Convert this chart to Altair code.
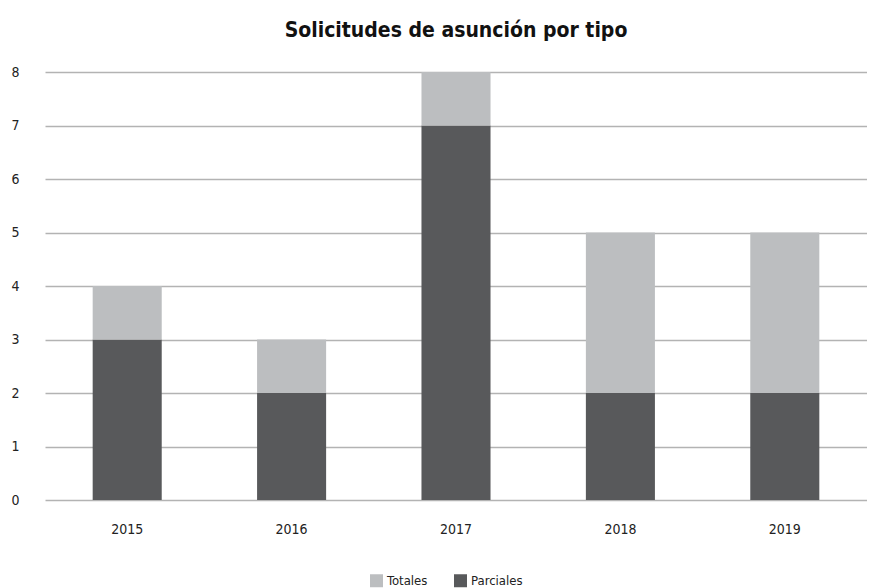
import altair as alt
import pandas as pd

years = ["2015", "2016", "2017", "2018", "2019"]
parciales = [3, 2, 7, 2, 2]
totales = [1, 1, 1, 3, 3]

rows = []
for y, p, t in zip(years, parciales, totales):
    rows.append({"year": y, "tipo": "Parciales", "valor": p, "orden": 0})
    rows.append({"year": y, "tipo": "Totales", "valor": t, "orden": 1})
df = pd.DataFrame(rows)

FONT = "'DejaVu Sans Condensed', 'Roboto', sans-serif"

chart = alt.Chart(df).mark_bar().encode(
    x=alt.X("year:N", title=None,
            scale=alt.Scale(paddingInner=0.58, paddingOuter=0.29),
            axis=alt.Axis(labelAngle=0, ticks=False, domain=False, labelPadding=22,
                          labelFontSize=14, labelColor="#222", labelFont=FONT)),
    y=alt.Y("valor:Q", title=None, stack="zero",
            scale=alt.Scale(domain=[0, 8], nice=False),
            axis=alt.Axis(values=list(range(9)), ticks=False, domain=False,
                          labelPadding=34, labelFontSize=14, labelColor="#222",
                          labelFont=FONT, gridColor="#b3b3b3", gridWidth=1.5,
                          labelAlign="left")),
    color=alt.Color("tipo:N", title=None,
                    scale=alt.Scale(domain=["Totales", "Parciales"],
                                    range=["#bcbec0", "#58595b"]),
                    legend=alt.Legend(orient="none", legendX=325, legendY=502,
                                      direction="horizontal",
                                      symbolType="square", symbolSize=169,
                                      labelFontSize=13, labelFont=FONT,
                                      labelOffset=4, labelColor="#222",
                                      columnPadding=26, symbolStrokeWidth=0)),
    order=alt.Order("orden:Q", sort="ascending"),
).properties(
    width=822, height=428,
    title=alt.TitleParams("Solicitudes de asunción por tipo", font=FONT,
                          fontSize=21, fontWeight="bold", color="#111",
                          anchor="middle", offset=24),
    autosize=alt.AutoSizeParams(type="none"),
    padding={"left": 37, "top": 64, "right": 0, "bottom": 88},
).configure_view(stroke=None)

chart.save("out.html", embed_options={"renderer": "svg", "actions": False})
